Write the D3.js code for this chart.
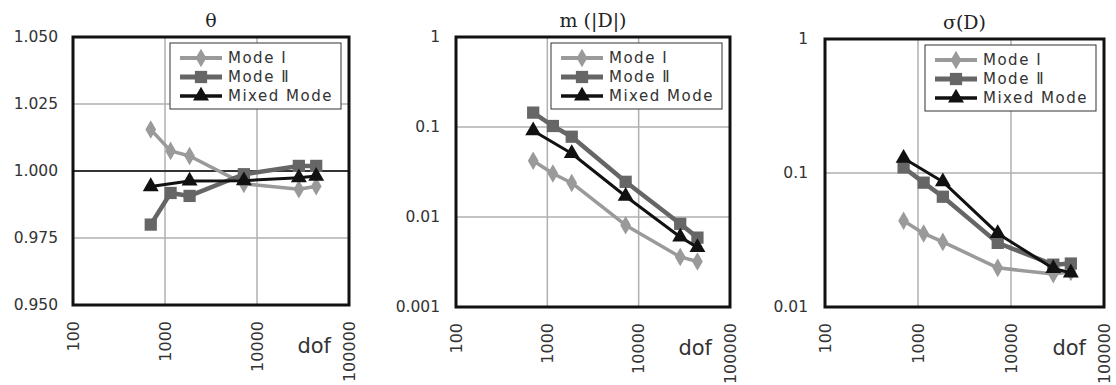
<!DOCTYPE html>
<html>
<head>
<meta charset="utf-8">
<script src="https://cdn.jsdelivr.net/npm/d3@7"></script>
<style>
  body { margin: 0; background: #fff; }
  svg { display: block; font-family: "DejaVu Sans", "Liberation Sans", sans-serif; }
</style>
</head>
<body>
<svg id="plot" width="1116" height="385"></svg>
<script>
// degrees of freedom (x values)
const dof = [700, 1150, 1850, 7200, 28500, 44000];
const dofMixed = [700, 1850, 7200, 28500, 44000];

const seriesNames = ["Mode Ⅰ", "Mode Ⅱ", "Mixed Mode"];

// theta
const thetaModeI = [1.0155, 1.0075, 1.0056, 0.9952, 0.9932, 0.9943];
const thetaModeII = [0.980, 0.9918, 0.9907, 0.9988, 1.0019, 1.0019];
const thetaMixed = [0.9942, 0.9963, 0.9964, 0.9975, 0.9981];

// m(|D|)
const meanModeI = [0.0421, 0.0304, 0.0239, 0.0081, 0.0036, 0.0032];
const meanModeII = [0.1445, 0.1026, 0.078, 0.0246, 0.0084, 0.0059];
const meanMixed = [0.091, 0.0508, 0.0170, 0.0060, 0.0046];

// sigma(D)
const sdModeI = [0.044, 0.0354, 0.0306, 0.0196, 0.0176, 0.0183];
const sdModeII = [0.110, 0.0847, 0.0665, 0.0301, 0.0207, 0.0211];
const sdMixed = [0.129, 0.0861, 0.0354, 0.0194, 0.0180];

const xTicks = [100, 1000, 10000, 100000];
const thetaTicks = [0.950, 0.975, 1.000, 1.025, 1.050];
const logTicks1 = [0.001, 0.01, 0.1, 1];
const logTicks2 = [0.01, 0.1, 1];

const styles = [
  {color: "#9a9a9a", width: 3.5, symbol: d3.symbolDiamond, size: 100},
  {color: "#666666", width: 4.5, symbol: d3.symbolSquare, size: 150},
  {color: "#111111", width: 3, symbol: d3.symbolTriangle, size: 110}
];

const panels = [
  {title: "θ", left: 73, right: 349, top: 37, bottom: 305, labelX: 58,
   y: d3.scaleLinear().domain([0.950, 1.050]), yTicks: thetaTicks,
   fmt: d3.format(".3f"), refLine: 1.000,
   series: [[dof, thetaModeI], [dof, thetaModeII], [dofMixed, thetaMixed]]},
  {title: "m (|D|)", left: 456, right: 730, top: 37, bottom: 307, labelX: 440,
   y: d3.scaleLog().domain([0.001, 1]), yTicks: logTicks1,
   fmt: d => String(d),
   series: [[dof, meanModeI], [dof, meanModeII], [dofMixed, meanMixed]]},
  {title: "σ(D)", left: 825, right: 1104, top: 39, bottom: 307, labelX: 808,
   y: d3.scaleLog().domain([0.01, 1]), yTicks: logTicks2,
   fmt: d => String(d),
   series: [[dof, sdModeI], [dof, sdModeII], [dofMixed, sdMixed]]}
];

const svg = d3.select("#plot");

panels.forEach(p => {
  const x = d3.scaleLog().domain([100, 100000]).range([p.left, p.right]);
  const y = p.y.range([p.bottom, p.top]);
  const g = svg.append("g");

  // gridlines
  g.selectAll(".gx").data(xTicks.slice(1, -1)).join("line")
      .attr("x1", d => x(d)).attr("x2", d => x(d))
      .attr("y1", p.top).attr("y2", p.bottom)
      .attr("stroke", "#b0b0b0").attr("stroke-width", 1.5);
  g.selectAll(".gy").data(p.yTicks.slice(1, -1)).join("line")
      .attr("x1", p.left).attr("x2", p.right)
      .attr("y1", d => y(d)).attr("y2", d => y(d))
      .attr("stroke", d => d === p.refLine ? "#333" : "#b0b0b0")
      .attr("stroke-width", d => d === p.refLine ? 2 : 1.5);

  // y tick labels
  g.selectAll(".ty").data(p.yTicks).join("text")
      .attr("x", p.labelX).attr("y", d => y(d))
      .attr("dy", "0.35em").attr("text-anchor", "end")
      .attr("font-size", 15.5).attr("fill", "#333")
      .text(p.fmt);

  // x tick labels (rotated)
  g.selectAll(".tx").data(xTicks).join("text")
      .attr("transform", d => `translate(${x(d)},${p.bottom + 16}) rotate(-90)`)
      .attr("dy", "0.35em").attr("text-anchor", "end")
      .attr("font-size", 16).attr("fill", "#333")
      .text(d => d);

  // axis title
  g.append("text")
      .attr("x", p.right - 18).attr("y", p.bottom + 48)
      .attr("text-anchor", "end").attr("font-size", 21).attr("fill", "#333")
      .text("dof");

  // panel title
  g.append("text")
      .attr("x", (p.left + p.right) / 2).attr("y", p.top - 10)
      .attr("text-anchor", "middle").attr("font-size", 19).attr("fill", "#222")
      .attr("font-family", "'DejaVu Serif', serif")
      .text(p.title);

  // series
  const line = d3.line().x(d => x(d[0])).y(d => y(d[1]));
  p.series.forEach(([xs, ys], i) => {
    const s = styles[i];
    const pts = xs.map((v, j) => [v, ys[j]]);
    g.append("path").datum(pts)
        .attr("fill", "none").attr("stroke", s.color)
        .attr("stroke-width", s.width).attr("stroke-linejoin", "round")
        .attr("d", line);
    g.selectAll(null).data(pts).join("path")
        .attr("transform", d => `translate(${x(d[0])},${y(d[1])})`)
        .attr("fill", s.color)
        .attr("d", d3.symbol(s.symbol, s.size));
  });

  // plot border
  g.append("rect")
      .attr("x", p.left).attr("y", p.top)
      .attr("width", p.right - p.left).attr("height", p.bottom - p.top)
      .attr("fill", "none").attr("stroke", "#111").attr("stroke-width", 3);

  // legend
  const lx = p.right - 179, ly = p.top + 6;
  const lg = g.append("g").attr("transform", `translate(${lx},${ly})`);
  lg.append("rect").attr("width", 171).attr("height", 66)
      .attr("fill", "#fff").attr("stroke", "#333").attr("stroke-width", 1);
  seriesNames.forEach((name, i) => {
    const s = styles[i];
    const ry = 15 + i * 19;
    lg.append("line").attr("x1", 10).attr("x2", 52)
        .attr("y1", ry).attr("y2", ry)
        .attr("stroke", s.color).attr("stroke-width", s.width + 0.5);
    lg.append("path").attr("transform", `translate(31,${ry})`)
        .attr("fill", s.color).attr("d", d3.symbol(s.symbol, s.size));
    lg.append("text").attr("x", 58).attr("y", ry).attr("dy", "0.35em")
        .attr("font-size", 15).attr("fill", "#333")
        .attr("letter-spacing", 1.5)
        .text(name);
  });
});
</script>
</body>
</html>
